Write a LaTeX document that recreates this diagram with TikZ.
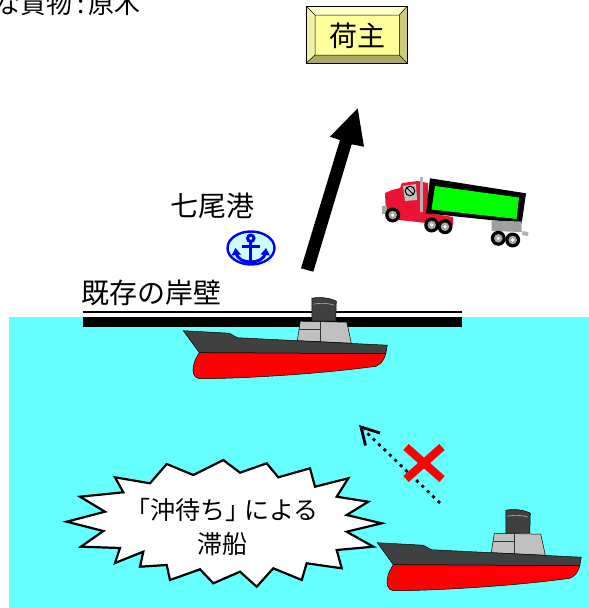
\documentclass[tikz,border=0pt]{standalone}
\usepackage{fontspec}
\newfontfamily\jp{Noto Sans CJK JP}
\definecolor{sea}{RGB}{102,255,255}
\definecolor{hulldark}{RGB}{64,64,64}
\definecolor{bridge}{RGB}{192,192,192}
\definecolor{hullred}{RGB}{255,0,0}
\definecolor{face}{RGB}{255,255,153}
\definecolor{bevlight}{RGB}{255,255,204}
\definecolor{bevside}{RGB}{240,240,170}
\definecolor{bevdark}{RGB}{204,204,122}
\definecolor{bevdeep}{RGB}{170,170,100}
\definecolor{anchorfill}{RGB}{204,255,255}
\definecolor{cabred}{RGB}{235,20,50}
\definecolor{cargo}{RGB}{0,255,0}
\begin{document}
\begin{tikzpicture}[x=1pt,y=-1pt,
  jptext/.style={font=\jp\fontsize{28}{30}\selectfont, inner sep=0pt},
  bursttext/.style={font=\jp\fontsize{25}{34}\selectfont, inner sep=0pt, align=center},
  outline/.style={draw=black, line width=0.5pt},
  wheelrim/.style={fill=gray!70},
  vessel/.pic={
    % funnel
    \fill[hulldark, outline] (128.5,-9.5) -- (128.5,-32.5)
      .. controls (137,-34) and (146,-33) .. (153,-29.5) -- (152.5,-9.5) -- cycle;
    \draw[gray!60, line width=0.6pt] (130,-26.5) .. controls (138,-28) and (145,-27.5) .. (151,-25.5);
    % upper deck
    \fill[bridge, outline] (114,10) -- (117,-9.5) -- (163.5,-8.5) -- (168,12.5) -- cycle;
    \draw[black!80, line width=0.8pt] (115.5,-1) -- (137,-1) (137,-9) -- (137,11.5);
    % hull above the waterline
    \fill[hulldark, outline] (0,0) -- (46,2.5) -- (54,7) -- (204,14.5) -- (202.5,23) -- (16,22) -- cycle;
    % red hull
    \fill[hullred, outline] (16,22) -- (202.5,23)
      .. controls (201,29) and (198,33) .. (193,35.5)
      .. controls (140,43) and (60,48) .. (16,48)
      .. controls (10,47) and (9,41) .. (10,36)
      .. controls (11,30) and (13,27) .. (16,22) -- cycle;
  }]
\useasboundingbox (0,0) rectangle (589,608);

% sea
\fill[sea] (9,316.5) rectangle (589,608);

% quay wall
\fill[black] (83,310.5) rectangle (462,313.2);
\fill[black] (83,317) rectangle (462,327);

% caption at the top left
\node[jptext, font=\jp\fontsize{26}{28}\selectfont, anchor=base east] (cargo) at (141,13.5) {な貨物\,:\,原木};

% shipper box with bevelled frame
\fill[bevlight] (306,6) -- (407.3,6) -- (399.3,15) -- (315,15) -- cycle;
\fill[bevside] (306,6) -- (315,15) -- (315,55) -- (306,63.3) -- cycle;
\fill[bevdark] (407.3,6) -- (407.3,63.3) -- (399.3,55) -- (399.3,15) -- cycle;
\fill[bevdeep] (306,63.3) -- (315,55) -- (399.3,55) -- (407.3,63.3) -- cycle;
\fill[face] (315,15) rectangle (399.3,55);
\draw[line width=0.7pt] (306,6) rectangle (407.3,63.3);
\draw[line width=0.5pt] (315,15) rectangle (399.3,55)
  (306,6) -- (315,15) (407.3,6) -- (399.3,15) (306,63.3) -- (315,55) (407.3,63.3) -- (399.3,55);
\node[jptext] (shipper) at (357.5,36) {荷主};

% transport arrow to the shipper
\fill[black] (301,268.3) -- (340,140) -- (330,136.7) -- (357.7,108.3) -- (364,146.7)
  -- (351.7,144.3) -- (313.3,271.7) -- cycle;

% port name and anchor mark
\node[jptext] (port) at (212.5,205.5) {七尾港};
\draw[blue, fill=anchorfill, line width=2.4pt] (251,248) ellipse [x radius=23.5, y radius=16.5];
\begin{scope}[blue, line width=3pt]
  \draw (250.8,238.3) circle [radius=3.2];
  \draw (250.8,241.5) -- (250.8,261);
  \draw (241.5,246) -- (260,246);
  \draw (236,252.5) .. controls (237.5,259.5) and (244,262) .. (250.8,262)
    .. controls (257.5,262) and (264,259.5) .. (265.5,252.5);
  \fill (231.5,255.5) -- (235.5,248) -- (241,254.5) -- cycle;
  \fill (270,255.5) -- (266,248) -- (260.5,254.5) -- cycle;
\end{scope}

% quay name
\node[jptext] (quay) at (151,293) {既存の岸壁};

% truck: tractor
\fill[cabred] (385,193) -- (392,190) -- (400,188) -- (402,183) -- (418,181) -- (428,183)
  -- (428,213) -- (453,217) -- (453,225.5) -- (440,224.5) -- (395,219.5) -- (386,214) -- cycle;
\fill[bridge] (403,186) -- (416,184) -- (417,200) -- (405,201) -- cycle;
\draw[black, line width=1pt] (410,191) circle [radius=4.8];
\draw[black, line width=0.8pt] (407,188) -- (413,194);
\fill[gray!70] (381.5,206) rectangle (387,214);
\fill[black!70] (385.5,197) rectangle (388,200);
\fill[gray!60] (420,176.5) rectangle (423,212);
% truck: trailer
\fill[black] (430,178.3) -- (526,193.3) -- (521.7,223.3) -- (426,213.3) -- cycle;
\fill[cargo] (435,186) -- (519,197.5) -- (516.5,219) -- (431.5,209.5) -- cycle;
\fill[gray!75] (491.7,220.5) -- (521.5,221.5) -- (521.5,232) -- (491.7,231) -- cycle;
\fill[gray!60] (522.5,231) -- (528.5,232) -- (528,236) -- (522,235) -- cycle;
% truck: wheels
\foreach \wx/\wy in {392.7/215, 431.7/225, 445/226.7, 498.3/238.3, 512.7/240} {
  \fill[black] (\wx,\wy) circle [radius=7.5];
  \fill[wheelrim] (\wx,\wy) circle [radius=4.3];
  \fill[white] (\wx,\wy) circle [radius=1.8];
}

% vessels
\pic at (183.3,330.7) {vessel};
\pic at (377.3,542.7) {vessel};

% blocked approach: dotted arrow and red cross
\draw[line width=2.8pt, dash pattern=on 3pt off 4.5pt] (440,503) -- (364,430);
\draw[line width=2.8pt] (380,433) -- (361,427) -- (365.5,445.5);
\draw[hullred, line width=8pt] (406,447) -- (442,479) (442,447) -- (406,479);

% starburst with text
\draw[fill=white, line width=2.2pt, line join=miter]
  (66.7,521.7) -- (105,511.7) -- (80,496.7) -- (123.3,492.3) -- (115,477.3) -- (150,483.3)
  -- (166.7,464) -- (193.3,475) -- (223.3,460) -- (240,472.7) -- (266.7,463.3) -- (278.3,477.3)
  -- (310,468.3) -- (315,486.7) -- (348.3,478.3) -- (336.7,496.7) -- (368.3,501.7) -- (346.7,515)
  -- (381.7,523.3) -- (346.7,531.7) -- (373.3,546.7) -- (336.7,550) -- (341.7,568.3) -- (306.7,563.3)
  -- (301.7,580) -- (273.3,568.3) -- (256.7,586.7) -- (240,571.7) -- (213.3,583.3) -- (200,569.3)
  -- (170,580) -- (166.7,565) -- (140,566.7) -- (143.3,551.7) -- (115,563) -- (120,548)
  -- (81,546.7) -- (103.3,531) -- cycle;
\node[bursttext] (delay) at (222,527) {「沖待ち」\kern-6pt による\\滞船};
\end{tikzpicture}
\end{document}
